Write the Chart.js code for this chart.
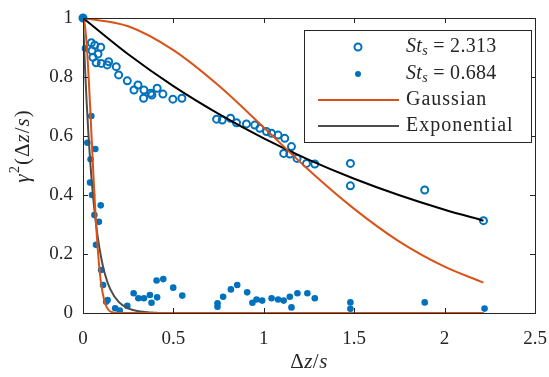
<!DOCTYPE html>
<html><head><meta charset="utf-8">
<script src="https://cdn.jsdelivr.net/npm/chart.js@4/dist/chart.umd.min.js"></script>
<style>html,body{margin:0;padding:0;background:#fff}</style>
</head><body>
<canvas id="c" width="549" height="377" style="display:block;width:549px;height:377px"></canvas>
<script>
// ---- tick labels ----
const xTicks = [0, 0.5, 1, 1.5, 2, 2.5];
const xTickLabels = ['0', '0.5', '1', '1.5', '2', '2.5'];
const yTicks = [0, 0.2, 0.4, 0.6, 0.8, 1];
const yTickLabels = ['0', '0.2', '0.4', '0.6', '0.8', '1'];

// ---- measured data, St_s = 2.313 (open circles) ----
const stHighX = [0, 0.046, 0.065, 0.098, 0.050, 0.083, 0.055, 0.073, 0.101, 0.134, 0.142, 0.184, 0.197, 0.245, 0.304, 0.282, 0.337, 0.374, 0.410, 0.442, 0.335, 0.381, 0.497, 0.547, 0.739, 0.770, 0.816, 0.849, 0.904, 0.950, 0.978, 1.015, 1.043, 1.079, 1.116, 1.153, 1.110, 1.144, 1.184, 1.236, 1.282, 1.479, 1.479, 1.890, 2.215];
const stHighY = [1, 0.916, 0.908, 0.901, 0.889, 0.878, 0.867, 0.848, 0.846, 0.841, 0.852, 0.835, 0.807, 0.787, 0.773, 0.756, 0.756, 0.745, 0.762, 0.742, 0.728, 0.739, 0.725, 0.728, 0.657, 0.654, 0.660, 0.645, 0.641, 0.637, 0.626, 0.615, 0.609, 0.603, 0.592, 0.564, 0.541, 0.539, 0.524, 0.507, 0.505, 0.507, 0.431, 0.417, 0.313];

// ---- measured data, St_s = 0.684 (filled dots) ----
const stLowX = [0, 0.011, 0.046, 0.024, 0.068, 0.042, 0.039, 0.050, 0.098, 0.063, 0.088, 0.072, 0.100, 0.111, 0.136, 0.128, 0.178, 0.203, 0.245, 0.280, 0.306, 0.337, 0.370, 0.379, 0.410, 0.407, 0.444, 0.499, 0.549, 0.744, 0.744, 0.775, 0.818, 0.853, 0.908, 0.937, 0.960, 0.991, 1.043, 1.079, 1.110, 1.144, 1.153, 1.186, 1.241, 1.282, 1.479, 1.479, 1.890, 2.221];
const stLowY = [1, 0.897, 0.668, 0.577, 0.556, 0.521, 0.442, 0.400, 0.365, 0.332, 0.309, 0.231, 0.146, 0.095, 0.044, 0.038, 0.016, 0.008, 0.024, 0.067, 0.050, 0.050, 0.061, 0.035, 0.053, 0.110, 0.115, 0.086, 0.059, 0.033, 0.021, 0.055, 0.080, 0.095, 0.070, 0.035, 0.046, 0.042, 0.050, 0.046, 0.042, 0.055, 0.019, 0.067, 0.067, 0.050, 0.036, 0.014, 0.036, 0.015];

// ---- fitted curves ----
const gaussWideX = [0, 0.25, 0.5, 0.75, 1.0, 1.25, 1.5, 1.75, 2.0, 2.215];
const gaussWideY = [1, 0.972, 0.891, 0.771, 0.629, 0.484, 0.353, 0.242, 0.157, 0.103];
const expWideX = [0, 0.25, 0.5, 0.75, 1.0, 1.25, 1.5, 1.75, 2.0, 2.215];
const expWideY = [1, 0.877, 0.769, 0.675, 0.592, 0.519, 0.455, 0.399, 0.350, 0.313];
const gaussNarrowX = [0, 0.01, 0.02, 0.03, 0.04, 0.05, 0.06, 0.07, 0.08, 0.09, 0.10, 0.12, 0.14, 0.17, 0.2, 0.3, 1.0, 2.215];
const gaussNarrowY = [1, 0.977, 0.912, 0.813, 0.693, 0.563, 0.438, 0.325, 0.230, 0.156, 0.101, 0.037, 0.011, 0.0013, 0, 0, 0, 0];
const expNarrowX = [0, 0.01, 0.02, 0.03, 0.04, 0.06, 0.08, 0.10, 0.12, 0.15, 0.2, 0.25, 0.3, 0.4, 0.5, 1.0, 2.215];
const expNarrowY = [1, 0.846, 0.717, 0.607, 0.513, 0.368, 0.264, 0.189, 0.135, 0.082, 0.036, 0.016, 0.007, 0.001, 0, 0, 0];

const BLUE = '#0072BD', ORANGE = '#D95319', GRAY = '#4D4D4D', AXC = '#262626';
const FONT = '"Liberation Serif", "DejaVu Serif", serif';
const zip = (xs, ys) => xs.map((x, i) => ({x, y: ys[i]}));

function lineDs(xs, ys, color) {
  return {data: zip(xs, ys), showLine: true, borderColor: color, borderWidth: 2,
    pointRadius: 0, cubicInterpolationMode: 'monotone', fill: false, order: 0};
}

// rich text: segments [text, italic?, pos] pos: 0 normal, 1 sup, -1 sub
function richDraw(ctx, segs, x, y, size, align, spacing) {
  ctx.letterSpacing = (spacing || 0) + 'px';
  const parts = segs.map(([t, it, pos]) => {
    const s = pos ? size * 0.7 : size;
    ctx.font = (it ? 'italic ' : '') + s + 'px ' + FONT;
    return {t, f: ctx.font, w: ctx.measureText(t).width, dy: pos === 1 ? -size * 0.38 : pos === -1 ? size * 0.22 : 0};
  });
  const W = parts.reduce((a, p) => a + p.w, 0);
  let cx = align === 'center' ? x - W / 2 : align === 'right' ? x - W : x;
  parts.forEach(p => { ctx.font = p.f; ctx.fillText(p.t, cx, y + p.dy); cx += p.w; });
  ctx.letterSpacing = '0px';
  return W;
}

const decor = {
  id: 'decor',
  afterDatasetsDraw(chart) {
    const {ctx, chartArea: a, scales: {x, y}} = chart;
    ctx.save();
    ctx.strokeStyle = AXC; ctx.lineWidth = 1;
    ctx.strokeRect(Math.round(a.left) + 0.5, Math.round(a.top) + 0.5, Math.round(a.right - a.left), Math.round(a.bottom - a.top));
    const L = 5;
    ctx.beginPath();
    xTicks.forEach(v => { const p = Math.round(x.getPixelForValue(v)) + 0.5;
      ctx.moveTo(p, a.bottom); ctx.lineTo(p, a.bottom - L); ctx.moveTo(p, a.top); ctx.lineTo(p, a.top + L); });
    yTicks.forEach(v => { const p = Math.round(y.getPixelForValue(v)) + 0.5;
      ctx.moveTo(a.left, p); ctx.lineTo(a.left + L, p); ctx.moveTo(a.right, p); ctx.lineTo(a.right - L, p); });
    ctx.stroke();

    // axis titles
    ctx.fillStyle = AXC; ctx.textBaseline = 'middle';
    richDraw(ctx, [['\u0394', false], ['z', true], ['/', false], ['s', true]], (a.left + a.right) / 2, 362, 21, 'center', 0.5);
    ctx.save();
    ctx.translate(23, 146); ctx.rotate(-Math.PI / 2);
    richDraw(ctx, [['\u03B3', true], ['2', false, 1], ['(\u0394', false], ['z', true], ['/', false], ['s', true], [')', false]], 0, 0, 21, 'center', 1);
    ctx.restore();

    // legend
    const bx = 304, by = 30, bw = 227, bh = 112;
    ctx.fillStyle = '#fff'; ctx.fillRect(bx, by, bw, bh);
    ctx.strokeStyle = AXC; ctx.lineWidth = 1; ctx.strokeRect(bx + 0.5, by + 0.5, bw, bh);
    const rows = [47, 74, 100, 126];
    const ds = chart.data.datasets;
    ctx.beginPath(); ctx.arc(358, rows[0], 3.5, 0, Math.PI * 2);
    ctx.strokeStyle = ds[4].borderColor; ctx.lineWidth = 2; ctx.stroke();
    ctx.beginPath(); ctx.arc(358, rows[1], 3, 0, Math.PI * 2);
    ctx.fillStyle = ds[5].backgroundColor; ctx.fill();
    ctx.lineWidth = 2;
    ctx.strokeStyle = ORANGE; ctx.beginPath(); ctx.moveTo(318, rows[2]); ctx.lineTo(399, rows[2]); ctx.stroke();
    ctx.strokeStyle = GRAY; ctx.beginPath(); ctx.moveTo(318, rows[3]); ctx.lineTo(399, rows[3]); ctx.stroke();
    ctx.fillStyle = AXC;
    const tx = 406;
    richDraw(ctx, [['St', true], ['s', true, -1], [' = 2.313', false]], tx, rows[0], 20, 'left', 0.3);
    richDraw(ctx, [['St', true], ['s', true, -1], [' = 0.684', false]], tx, rows[1], 20, 'left', 0.3);
    richDraw(ctx, [['Gaussian', false]], tx, rows[2], 20, 'left', 1);
    richDraw(ctx, [['Exponential', false]], tx, rows[3], 20, 'left', 1);
    ctx.restore();
  }
};

new Chart(document.getElementById('c'), {
  type: 'scatter',
  data: {
    datasets: [
      lineDs(gaussWideX, gaussWideY, ORANGE),
      lineDs(expWideX, expWideY, '#000000'),
      lineDs(gaussNarrowX, gaussNarrowY, ORANGE),
      lineDs(expNarrowX, expNarrowY, GRAY),
      {label: 'St_s = 2.313', data: zip(stHighX, stHighY), pointStyle: 'circle', pointRadius: 3.5,
        pointBorderWidth: 2, borderColor: BLUE, pointBorderColor: BLUE, backgroundColor: 'rgba(0,0,0,0)', pointBackgroundColor: 'rgba(0,0,0,0)', order: 2, clip: false},
      {label: 'St_s = 0.684', data: zip(stLowX, stLowY), pointStyle: 'circle', pointRadius: 3.3,
        pointBorderWidth: 0, borderColor: BLUE, backgroundColor: BLUE, pointBackgroundColor: BLUE, order: 1, clip: false}
    ]
  },
  options: {
    responsive: false, animation: false, devicePixelRatio: 1,
    layout: {padding: {top: 18, right: 14, left: 0, bottom: 0}},
    plugins: {legend: {display: false}, tooltip: {enabled: false}},
    scales: {
      x: {type: 'linear', min: 0, max: 2.5,
        afterFit: s => { s.height = 64; s.paddingLeft = 0; s.paddingRight = 0; },
        afterBuildTicks: s => { s.ticks = xTicks.map(v => ({value: v})); },
        grid: {display: false, drawTicks: false}, border: {display: false},
        ticks: {padding: 15, color: AXC, font: {family: FONT, size: 19}, maxRotation: 0,
          callback: (v) => xTickLabels[xTicks.indexOf(v)]}},
      y: {type: 'linear', min: 0, max: 1,
        afterFit: s => { s.width = 83; s.paddingTop = 0; s.paddingBottom = 0; },
        afterBuildTicks: s => { s.ticks = yTicks.map(v => ({value: v})); },
        grid: {display: false, drawTicks: false}, border: {display: false},
        ticks: {padding: 10, color: AXC, font: {family: FONT, size: 19},
          callback: (v) => yTickLabels[yTicks.indexOf(v)]}}
    }
  },
  plugins: [decor]
});
</script>
</body></html>
